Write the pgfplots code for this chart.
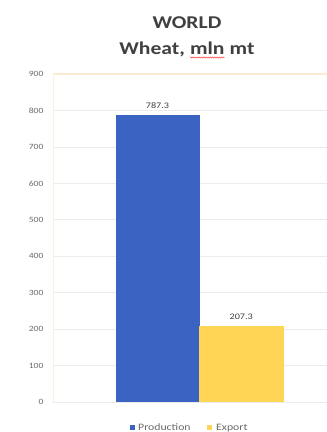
\documentclass[border=0pt]{standalone}
\usepackage{pgfplots}
\pgfplotsset{compat=1.18}
\usepackage{fontspec}
\setmainfont{Carlito}[FakeStretch=1.2]
\usetikzlibrary{calc,decorations.pathmorphing}
\definecolor{prod}{HTML}{3B63C1}
\definecolor{expo}{HTML}{FFD556}
\definecolor{titlec}{HTML}{404040}
\definecolor{tickc}{HTML}{6A6A6A}
\definecolor{framec}{HTML}{FBEBD2}
\definecolor{gridc}{HTML}{ECECEC}
\newcommand{\wavy}[1]{\tikz[baseline=(m.base)]{\node[inner sep=0pt, outer sep=0pt, anchor=base](m){#1}; \draw[red!75, line width=0.5pt, decorate, decoration={zigzag, segment length=2.2pt, amplitude=0.6pt}] ([yshift=-2.5pt]m.base west) -- ([yshift=-2.5pt]m.base east);}}
\begin{document}
\begin{tikzpicture}[x=1pt,y=1pt]
\begin{axis}[
  name=ax, at={(0,0)}, anchor=south west,
  scale only axis, width=292pt, height=328pt,
  xmin=53, xmax=345, ymin=0, ymax=900,
  ytick={0,100,...,900},
  xtick=\empty,
  ymajorgrids, grid style={gridc, line width=0.6pt},
  axis line style={draw=none},
  major tick length=0pt,
  tick label style={font=\fontsize{8}{9}\selectfont, text=tickc},
  /pgf/number format/assume math mode=true,
  yticklabel style={xshift=-6pt},
  ybar, bar width=83.5,
  nodes near coords,
  every node near coord/.append style={font=\fontsize{8.5}{9}\selectfont, text=titlec, yshift=3pt, /pgf/number format/.cd, fixed, precision=1, fixed zerofill, assume math mode=true},
  clip=false,
]
\draw[framec, line width=1.2pt] (axis cs:53,900) -- (axis cs:345,900);
\draw[framec!70, line width=0.8pt] (axis cs:53,0) -- (axis cs:53,900);
\addplot[bar shift=0pt, fill=prod, draw=prod] coordinates {(157.5,787.3)};
\addplot[bar shift=0pt, fill=expo, draw=expo] coordinates {(241.25,207.3)};
\draw[gridc!80!black!30, line width=0.6pt] (axis cs:53,0) -- (axis cs:345,0);
\end{axis}
\coordinate (O) at ($(ax.south west)+(-53,402)$);
\node[font=\bfseries\fontsize{18}{20}\selectfont, text=titlec, anchor=base] at ($(O)+(187,-29)$) {WORLD};
\node[font=\bfseries\fontsize{18}{20}\selectfont, text=titlec, anchor=base] at ($(O)+(187,-55)$) {Wheat, \wavy{mln} mt};
\fill[prod] ($(O)+(130,-424.5)$) rectangle ++(5,-5);
\node[font=\fontsize{9.8}{11}\selectfont, text=tickc, anchor=base west, inner sep=0pt] at ($(O)+(138,-430)$) {Production};
\fill[expo] ($(O)+(206.5,-424.5)$) rectangle ++(5,-5);
\node[font=\fontsize{9.8}{11}\selectfont, text=tickc, anchor=base west, inner sep=0pt] at ($(O)+(216,-430)$) {Export};
\pgfresetboundingbox
\path[use as bounding box] (O) rectangle ++(327,-432);
\end{tikzpicture}
\end{document}
